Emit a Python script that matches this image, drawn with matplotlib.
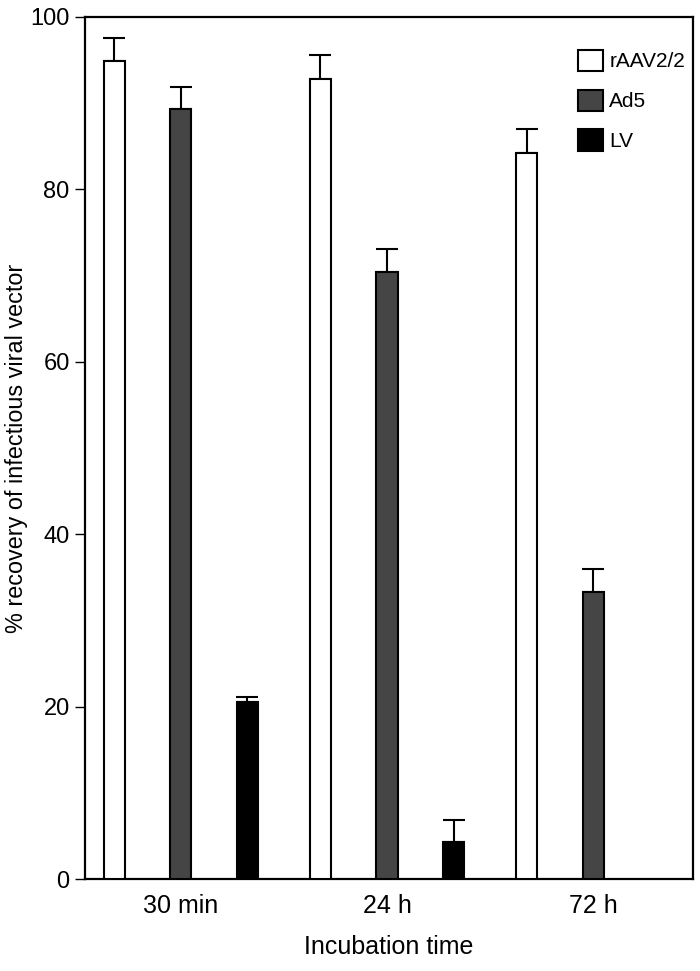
import numpy as np
import matplotlib
matplotlib.use("Agg")
import matplotlib.pyplot as plt
from matplotlib.patches import Patch

plt.rcParams['font.family'] = ['Liberation Sans Narrow', 'Liberation Sans', 'DejaVu Sans']

# data
groups = ["30 min", "24 h", "72 h"]
series = ["rAAV2/2", "Ad5", "LV"]
raav = [94.9, 92.8, 84.2]
raav_err = [2.7, 2.8, 2.8]
ad5 = [89.3, 70.4, 33.3]
ad5_err = [2.6, 2.7, 2.7]
lv = [20.5, 4.3, np.nan]
lv_err = [0.6, 2.5, np.nan]
colors = ["white", "#454545", "black"]

values = [raav, ad5, lv]
errors = [raav_err, ad5_err, lv_err]

fig = plt.figure(figsize=(7.0, 9.71), dpi=100)
ax = fig.add_axes([0.1214, 0.0947, 0.8686, 0.8878])

group_pos = np.arange(len(groups)) * 3.1
offsets = [-1, 0, 1]

for vals, errs, col, off in zip(values, errors, colors, offsets):
    vals = np.array(vals, dtype=float)
    errs = np.array(errs, dtype=float)
    ax.bar(group_pos + off, vals, width=0.32, color=col, edgecolor="black",
           linewidth=1.5, zorder=3)
    ax.errorbar(group_pos + off, vals, yerr=[np.zeros_like(errs), errs],
                fmt="none", ecolor="black", elinewidth=1.5, capsize=8.0,
                capthick=1.5, zorder=2)

ax.set_xlim(-1.44, 7.70)
ax.set_ylim(0, 100)
ax.set_yticks([0, 20, 40, 60, 80, 100])
ax.set_xticks(group_pos)
ax.set_xticklabels(groups)
ax.tick_params(axis="y", direction="out", length=7, width=1, pad=4, labelsize=17)
ax.tick_params(axis="x", length=0, pad=11, labelsize=18)
for sp in ax.spines.values():
    sp.set_linewidth(1.6)

ax.set_xlabel("Incubation time", fontsize=18, labelpad=12)
ax.set_ylabel("% recovery of infectious viral vector", fontsize=16.8)
ax.yaxis.set_label_coords(-0.094, 0.5)

handles = [Patch(facecolor=c, edgecolor="black", linewidth=1.5) for c in colors]
ax.legend(handles, series, loc="upper left", bbox_to_anchor=(0.811, 0.962),
          frameon=False, fontsize=15, handlelength=1.2, handleheight=1.2,
          handletextpad=0.3, labelspacing=0.87, borderpad=0, borderaxespad=0)

fig.savefig("out.png", dpi=100)
